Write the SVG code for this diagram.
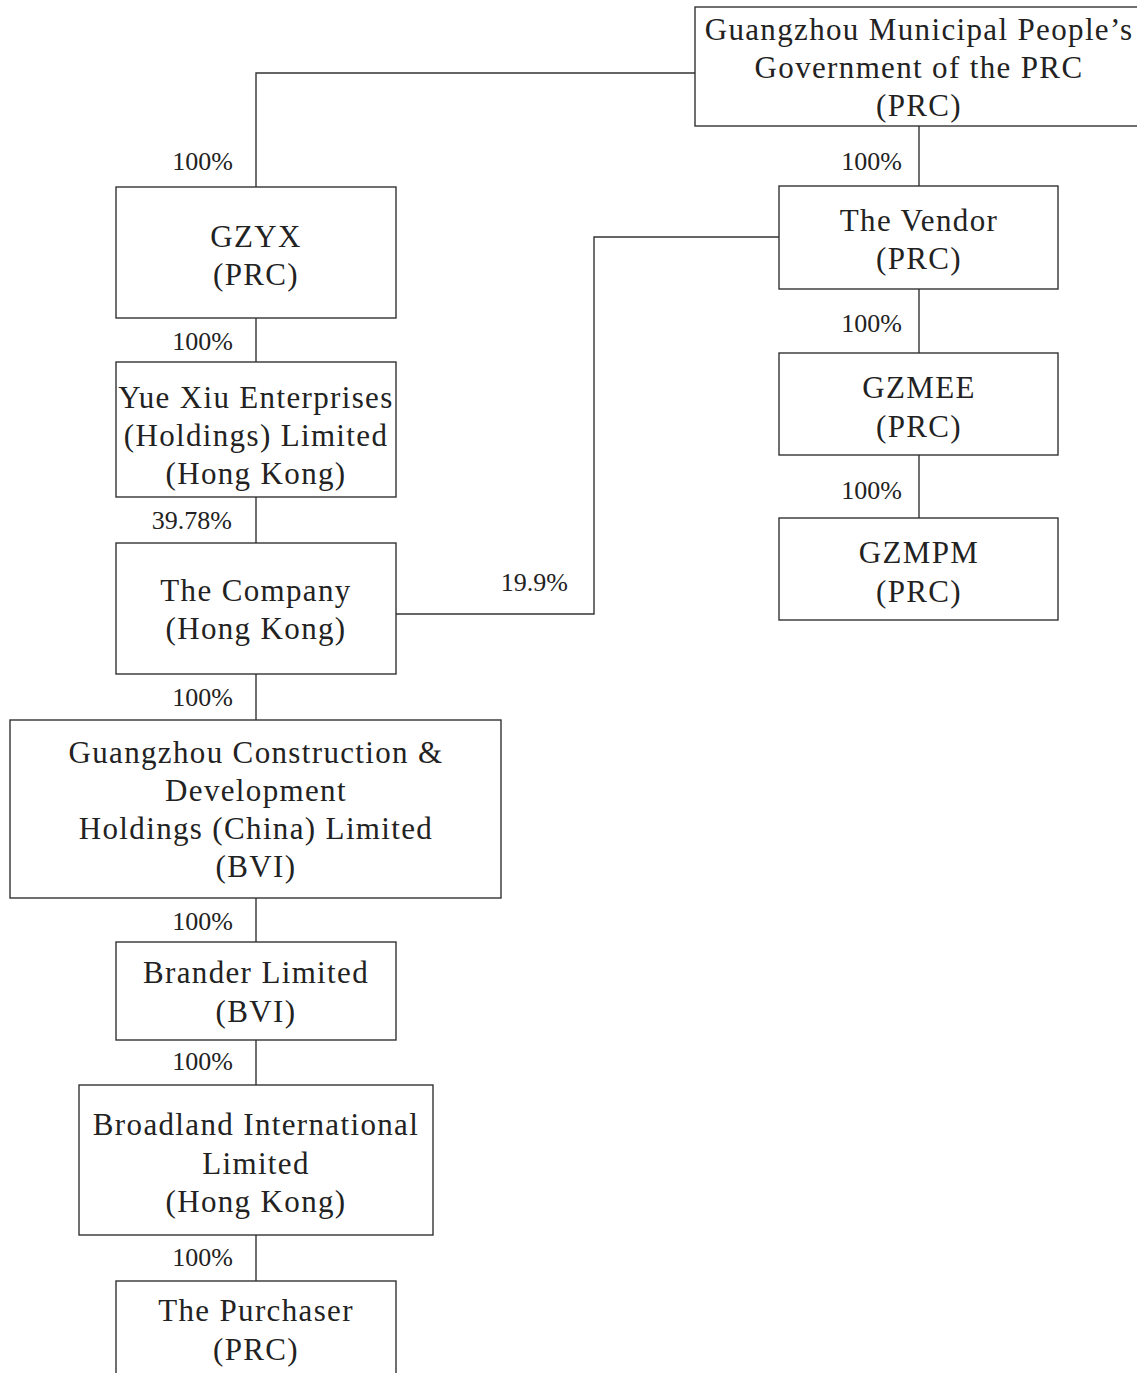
<svg xmlns="http://www.w3.org/2000/svg" width="1137" height="1373" viewBox="0 0 1137 1373">
<style>
.box{fill:#fff;stroke:#333;stroke-width:1.4}
.lbl{font-family:"Liberation Serif","Times New Roman",serif;font-size:31px;letter-spacing:1.35px;fill:#222;text-anchor:middle}
.pct{font-family:"Liberation Serif","Times New Roman",serif;font-size:26px;fill:#222;text-anchor:end}
.con{fill:none;stroke:#333;stroke-width:1.4}
</style>
<rect width="1137" height="1373" fill="#fff"/>
<g id="connectors">
<polyline class="con" points="695,73 256,73 256,187"/>
<line class="con" x1="256" y1="318" x2="256" y2="362"/>
<line class="con" x1="256" y1="497" x2="256" y2="543"/>
<line class="con" x1="256" y1="674" x2="256" y2="720"/>
<line class="con" x1="256" y1="898" x2="256" y2="942"/>
<line class="con" x1="256" y1="1040" x2="256" y2="1085"/>
<line class="con" x1="256" y1="1235" x2="256" y2="1281"/>
<line class="con" x1="919" y1="126" x2="919" y2="186"/>
<line class="con" x1="919" y1="289" x2="919" y2="353"/>
<line class="con" x1="919" y1="455" x2="919" y2="518"/>
<polyline class="con" points="396,614 594,614 594,237 779,237"/>
<text class="pct" x="233" y="170">100%</text>
<text class="pct" x="233" y="350">100%</text>
<text class="pct" x="232" y="529">39.78%</text>
<text class="pct" x="233" y="706">100%</text>
<text class="pct" x="233" y="930">100%</text>
<text class="pct" x="233" y="1070">100%</text>
<text class="pct" x="233" y="1266">100%</text>
<text class="pct" x="902" y="170">100%</text>
<text class="pct" x="902" y="332">100%</text>
<text class="pct" x="902" y="499">100%</text>
<text class="pct" x="568" y="591">19.9%</text>
</g>
<g id="gov">
<rect class="box" x="695" y="7" width="450" height="119"/>
<text class="lbl" x="919" y="40">Guangzhou Municipal People’s</text>
<text class="lbl" x="919" y="78">Government of the PRC</text>
<text class="lbl" x="919" y="116">(PRC)</text>
</g>
<g id="gzyx">
<rect class="box" x="116" y="187" width="280" height="131"/>
<text class="lbl" x="256" y="247">GZYX</text>
<text class="lbl" x="256" y="285">(PRC)</text>
</g>
<g id="yuexiu">
<rect class="box" x="116" y="362" width="280" height="135"/>
<text class="lbl" x="256" y="408">Yue Xiu Enterprises</text>
<text class="lbl" x="256" y="446">(Holdings) Limited</text>
<text class="lbl" x="256" y="484">(Hong Kong)</text>
</g>
<g id="company">
<rect class="box" x="116" y="543" width="280" height="131"/>
<text class="lbl" x="256" y="601">The Company</text>
<text class="lbl" x="256" y="639">(Hong Kong)</text>
</g>
<g id="gcd">
<rect class="box" x="10" y="720" width="491" height="178"/>
<text class="lbl" x="256" y="763">Guangzhou Construction &amp;</text>
<text class="lbl" x="256" y="801">Development</text>
<text class="lbl" x="256" y="839">Holdings (China) Limited</text>
<text class="lbl" x="256" y="877">(BVI)</text>
</g>
<g id="brander">
<rect class="box" x="116" y="942" width="280" height="98"/>
<text class="lbl" x="256" y="983">Brander Limited</text>
<text class="lbl" x="256" y="1022">(BVI)</text>
</g>
<g id="broadland">
<rect class="box" x="79" y="1085" width="354" height="150"/>
<text class="lbl" x="256" y="1135">Broadland International</text>
<text class="lbl" x="256" y="1174">Limited</text>
<text class="lbl" x="256" y="1212">(Hong Kong)</text>
</g>
<g id="purchaser">
<rect class="box" x="116" y="1281" width="280" height="120"/>
<text class="lbl" x="256" y="1321">The Purchaser</text>
<text class="lbl" x="256" y="1360">(PRC)</text>
</g>
<g id="vendor">
<rect class="box" x="779" y="186" width="279" height="103"/>
<text class="lbl" x="919" y="231">The Vendor</text>
<text class="lbl" x="919" y="269">(PRC)</text>
</g>
<g id="gzmee">
<rect class="box" x="779" y="353" width="279" height="102"/>
<text class="lbl" x="919" y="398">GZMEE</text>
<text class="lbl" x="919" y="437">(PRC)</text>
</g>
<g id="gzmpm">
<rect class="box" x="779" y="518" width="279" height="102"/>
<text class="lbl" x="919" y="563">GZMPM</text>
<text class="lbl" x="919" y="602">(PRC)</text>
</g>
</svg>
